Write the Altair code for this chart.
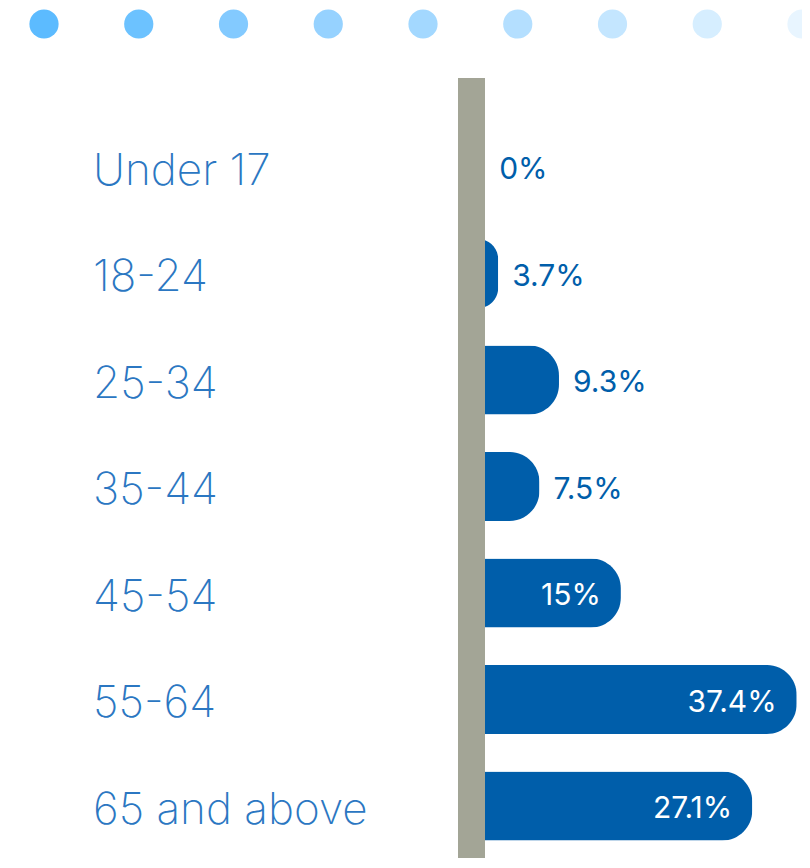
import altair as alt
import pandas as pd

# ---- data ----
categories = ["Under 17", "18-24", "25-34", "35-44", "45-54", "55-64", "65 and above"]
values = [0, 3.7, 9.3, 7.5, 15, 37.4, 27.1]

dot_index = [0, 1, 2, 3, 4, 5, 6, 7, 8]
dot_colors = ["#5CBBFF", "#6CC2FF", "#83CAFF", "#96D2FF", "#A3D8FF",
              "#B4DFFF", "#C4E6FF", "#D6EEFF", "#E8F5FF"]

df = pd.DataFrame({"cat": categories, "v": values})
dots = pd.DataFrame({"i": dot_index, "c": dot_colors})

BAR = "#005EAA"
CAT_COLOR = "#2B77C2"
GRAY = "#A3A596"
FONT = "Inter"

xscale = alt.Scale(domain=[0, 31.19], range=[450, 788.7], clamp=True)
yscale = alt.Scale(domain=categories, range=[105.75, 851.25],
                   paddingInner=0.352, paddingOuter=0.176)

base = alt.Chart(df)

dots_layer = alt.Chart(dots).mark_circle(size=855, opacity=1).encode(
    x=alt.X("i:Q", scale=alt.Scale(domain=[0, 8], range=[36, 794]), axis=None),
    y=alt.value(16),
    color=alt.Color("c:N", scale=None),
)

bars = base.mark_bar(color=BAR, cornerRadiusEnd=30).encode(
    x=alt.X("v:Q", scale=xscale, axis=None),
    y=alt.Y("cat:N", scale=yscale, axis=None, sort=categories),
)

gray_bar = alt.Chart(df).mark_rect(color=GRAY).encode(
    x=alt.value(450.3), x2=alt.value(477),
    y=alt.value(70.3), y2=alt.value(860),
)

labels_out = base.transform_filter("datum.v < 12").transform_calculate(
    label="datum.v + '%'", pos="max(datum.v, 2.5)"
).mark_text(align="left", baseline="middle", dx=14, dy=3, fontSize=30,
            font=FONT, fontWeight=400, color=BAR).encode(
    x=alt.X("pos:Q", scale=xscale, axis=None),
    y=alt.Y("cat:N", scale=yscale, axis=None, sort=categories),
    text="label:N",
)

labels_in = base.transform_filter("datum.v >= 12").transform_calculate(
    label="datum.v + '%'"
).mark_text(align="right", baseline="middle", dx=-20, dy=3, fontSize=30,
            font=FONT, fontWeight=400, color="white").encode(
    x=alt.X("v:Q", scale=xscale, axis=None),
    y=alt.Y("cat:N", scale=yscale, axis=None, sort=categories),
    text="label:N",
)

cat_labels = base.mark_text(align="left", baseline="middle", dy=4.5, fontSize=44,
                            font=FONT, fontWeight=200, color=CAT_COLOR).encode(
    x=alt.value(85),
    y=alt.Y("cat:N", scale=yscale, axis=None, sort=categories),
    text="cat:N",
)

chart = alt.layer(dots_layer, bars, gray_bar, labels_out, labels_in, cat_labels).resolve_scale(
    x="independent", color="independent"
).properties(
    width=794, height=850, autosize=alt.AutoSizeParams(type="none"), padding=0,
    background="white"
).configure_view(stroke=None)

chart.save("out.html", embed_options={"renderer": "svg", "actions": False})
